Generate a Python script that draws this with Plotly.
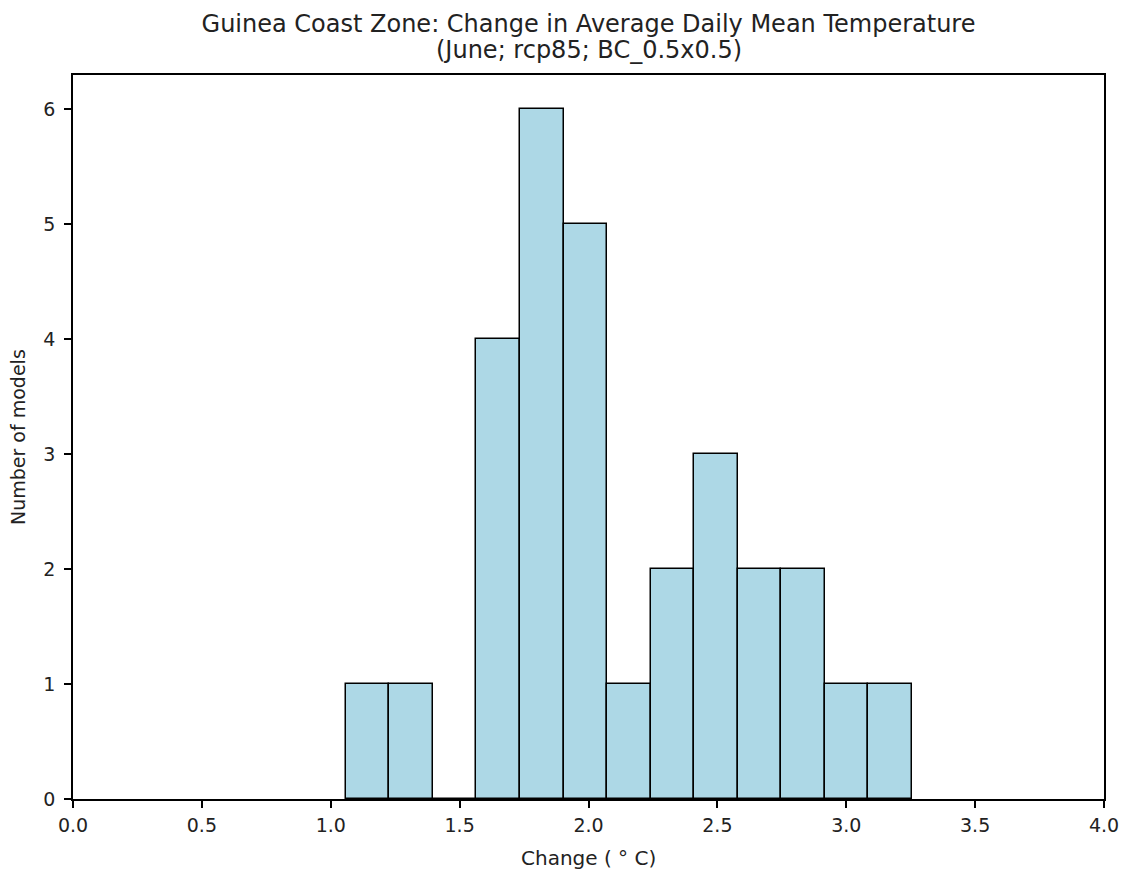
import plotly.graph_objects as go

bin_edges = [1.058, 1.227, 1.396, 1.565, 1.734, 1.903, 2.072, 2.241, 2.410, 2.579, 2.748, 2.917, 3.086, 3.255]
counts = [1, 1, 0, 4, 6, 5, 1, 2, 3, 2, 2, 1, 1]
x_ticks = [0.0, 0.5, 1.0, 1.5, 2.0, 2.5, 3.0, 3.5, 4.0]
y_ticks = [0, 1, 2, 3, 4, 5, 6]
title_line1 = "Guinea Coast Zone: Change in Average Daily Mean Temperature"
title_line2 = "(June; rcp85; BC_0.5x0.5)"
x_title = "Change ( ° C)"
y_title = "Number of models"

centers = [(a + b) / 2 for a, b in zip(bin_edges[:-1], bin_edges[1:])]
widths = [b - a for a, b in zip(bin_edges[:-1], bin_edges[1:])]

fig = go.Figure(go.Bar(
    x=centers, y=counts, width=widths,
    marker=dict(color="#ADD8E6", line=dict(color="black", width=1.5)),
))

font = "DejaVu Sans, Arial, sans-serif"
ink = "#222222"
W, H = 1123, 869
L, R, T, B = 73, 19, 75, 70
PW, PH = W - L - R, H - T - B
fig.update_layout(
    width=W, height=H,
    margin=dict(l=L, r=R, t=T, b=B),
    plot_bgcolor="white", paper_bgcolor="white",
    font=dict(family=font, size=19, color=ink),
    showlegend=False,
    title=dict(
        text=title_line1,
        xref="paper", x=0.5, xanchor="center",
        yref="container", y=1 - 23.5 / H, yanchor="middle",
        font=dict(family=font, size=24, color=ink),
    ),
    annotations=[
        dict(text=title_line2, xref="paper", yref="paper",
             x=0.5, xanchor="center", y=1 + (T - 49.6) / PH, yanchor="middle",
             showarrow=False, font=dict(family=font, size=24, color=ink)),
        dict(text=x_title, xref="paper", yref="paper",
             x=0.5, xanchor="center", y=-(857.5 - (H - B)) / PH, yanchor="middle",
             showarrow=False, font=dict(family=font, size=20, color=ink)),
        dict(text=y_title, xref="paper", yref="paper", textangle=-90,
             x=(18 - L) / PW, xanchor="center", y=0.5, yanchor="middle",
             showarrow=False, font=dict(family=font, size=19, color=ink)),
    ],
    bargap=0,
)
fig.update_xaxes(
    range=[0, 4], tickvals=x_ticks, ticktext=[f"{v:.1f}" for v in x_ticks],
    showgrid=False, zeroline=False, showline=True, linecolor="black", linewidth=1.5,
    mirror=True, ticks="outside", ticklen=7, tickwidth=1.5, tickcolor="black",
    ticklabelstandoff=1, automargin=False, ticklabeloverflow="allow",
)
fig.update_yaxes(
    range=[0, 6.3], tickvals=y_ticks,
    showgrid=False, zeroline=False, showline=True, linecolor="black", linewidth=1.5,
    mirror=True, ticks="outside", ticklen=7, tickwidth=1.5, tickcolor="black",
    ticklabelstandoff=5, automargin=False,
)

fig.write_html("out.html", config={"displayModeBar": False},
               post_script="document.body.style.margin='0';")
